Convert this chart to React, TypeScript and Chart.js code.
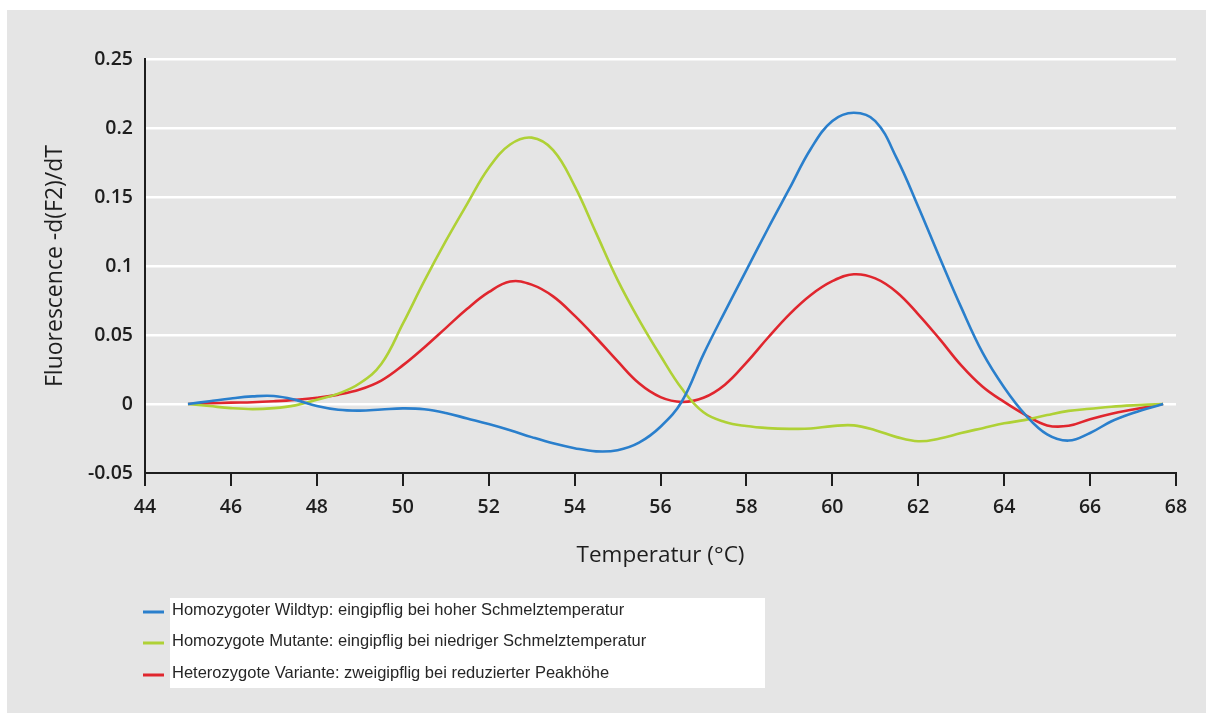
import React, { useEffect, useRef } from 'react';
import { Chart, registerables } from 'chart.js';

Chart.register(...registerables);

// ---- data ----
const seriesLabels = [
  'Homozygoter Wildtyp: eingipflig bei hoher Schmelztemperatur',
  'Homozygote Mutante: eingipflig bei niedriger Schmelztemperatur',
  'Heterozygote Variante: zweigipflig bei reduzierter Peakhöhe',
];
const seriesColors = ['#2a7fcc', '#afd136', '#e0262e'];

const temps = [
  45, 45.5, 46, 46.5, 47, 47.5, 48, 48.5, 49, 49.5, 50, 50.5, 51, 51.5, 52, 52.5,
  53, 53.5, 54, 54.5, 55, 55.5, 56, 56.5, 57, 57.5, 58, 58.5, 59, 59.5, 60, 60.5,
  61, 61.5, 62, 62.5, 63, 63.5, 64, 64.5, 65, 65.5, 66, 66.5, 67, 67.7,
];

const wildtyp = [
  0, 0.002, 0.004, 0.0055, 0.0058, 0.003, -0.0015, -0.0042, -0.0048, -0.004, -0.0032, -0.0038,
  -0.0065, -0.0105, -0.0145, -0.019, -0.024, -0.0285, -0.032, -0.0343, -0.0335, -0.028, -0.0165, 0.002,
  0.036, 0.067, 0.097, 0.127, 0.156, 0.185, 0.205, 0.211, 0.205, 0.178, 0.143, 0.106,
  0.07, 0.037, 0.012, -0.008, -0.022, -0.0265, -0.021, -0.0125, -0.0065, 0,
];

const mutante = [
  0, -0.0015, -0.003, -0.0037, -0.003, -0.001, 0.003, 0.0075, 0.015, 0.029, 0.058, 0.089,
  0.118, 0.145, 0.171, 0.188, 0.193, 0.184, 0.158, 0.124, 0.09, 0.061, 0.035, 0.011,
  -0.006, -0.013, -0.016, -0.0175, -0.018, -0.0178, -0.016, -0.0155, -0.019, -0.024, -0.027, -0.025,
  -0.021, -0.0175, -0.014, -0.0115, -0.008, -0.005, -0.0035, -0.002, -0.001, 0,
];

const variante = [
  0, 0.0005, 0.001, 0.0013, 0.002, 0.003, 0.0045, 0.0068, 0.0105, 0.017, 0.028, 0.041,
  0.055, 0.069, 0.081, 0.0888, 0.0865, 0.078, 0.064, 0.048, 0.031, 0.015, 0.005, 0.0015,
  0.0045, 0.014, 0.03, 0.048, 0.065, 0.079, 0.089, 0.094, 0.091, 0.081, 0.065, 0.047,
  0.028, 0.0125, 0.0015, -0.008, -0.0155, -0.0158, -0.011, -0.007, -0.004, 0,
];

const X_MIN = 44;
const X_MAX = 68;
const X_STEP = 2;
const Y_MIN = -0.05;
const Y_MAX = 0.25;
const Y_STEP = 0.05;
const yTickLabels = ['-0.05', '0', '0.05', '0.1', '0.15', '0.2', '0.25'];
const xTitle = 'Temperatur (°C)';
const yTitle = 'Fluorescence -d(F2)/dT';

const CANVAS_W = 1199;
const CANVAS_H = 703;
const AXIS_COLOR = '#1e1e1e';
const TEXT_COLOR = '#1e1e1e';
const FONT = '"Open Sans", "Noto Sans", sans-serif';

const legendPlugin = {
  id: 'boxLegend',
  afterDraw(chart: any) {
    const ctx = chart.ctx;
    ctx.save();
    ctx.fillStyle = '#ffffff';
    ctx.fillRect(163, 588, 595, 90);
    const rows = [602, 633, 665];
    chart.data.datasets.forEach((ds: any, i: number) => {
      const y = rows[i];
      ctx.strokeStyle = ds.borderColor;
      ctx.lineWidth = 3;
      ctx.beginPath();
      ctx.moveTo(136, y);
      ctx.lineTo(157, y);
      ctx.stroke();
      ctx.fillStyle = '#262626';
      ctx.font = '16.5px "Liberation Sans", Arial, sans-serif';
      ctx.textBaseline = 'middle';
      ctx.textAlign = 'left';
      ctx.fillText(ds.label, 165, y - 2);
    });
    ctx.restore();
  },
};

export default function App() {
  const ref = useRef<HTMLCanvasElement | null>(null);

  useEffect(() => {
    if (!ref.current) return;
    const toPts = (vals: number[]) => vals.map((y, i) => ({ x: temps[i], y }));
    const sets = [wildtyp, mutante, variante];
    const chart = new Chart(ref.current, {
      type: 'line',
      data: {
        datasets: sets.map((s, i) => ({
          label: seriesLabels[i],
          data: toPts(s),
          borderColor: seriesColors[i],
          backgroundColor: seriesColors[i],
          borderWidth: 2.6,
          pointRadius: 0,
          fill: false,
          tension: 0.4,
        })),
      },
      options: {
        animation: false,
        responsive: false,
        devicePixelRatio: 1,
        layout: { padding: { left: 0, right: 30, top: 49, bottom: 0 } },
        plugins: {
          legend: { display: false },
          tooltip: { enabled: false },
        },
        scales: {
          x: {
            type: 'linear',
            min: X_MIN,
            max: X_MAX,
            afterFit: (scale: any) => {
              scale.height = 240;
            },
            ticks: {
              stepSize: X_STEP,
              color: TEXT_COLOR,
              padding: 10,
              font: { family: FONT, size: 19.5, weight: '600' },
              maxRotation: 0,
            },
            grid: {
              drawOnChartArea: false,
              drawTicks: true,
              tickLength: 13,
              color: AXIS_COLOR,
              lineWidth: 2,
            },
            border: { display: true, color: AXIS_COLOR, width: 2 },
            title: {
              display: true,
              text: xTitle,
              color: TEXT_COLOR,
              font: { family: FONT, size: 22.5, weight: '500' },
              padding: { top: 0, bottom: 144 },
            },
          },
          y: {
            type: 'linear',
            min: Y_MIN,
            max: Y_MAX,
            afterFit: (scale: any) => {
              scale.width = 138;
            },
            ticks: {
              stepSize: Y_STEP,
              color: TEXT_COLOR,
              padding: 12,
              font: { family: FONT, size: 19.5, weight: '600' },
              callback: (_v: any, index: number) => yTickLabels[index],
            },
            grid: {
              drawTicks: false,
              color: (c: any) => (c.tick && Math.abs(c.tick.value - Y_MIN) < 1e-9 ? 'rgba(0,0,0,0)' : '#ffffff'),
              lineWidth: 2.5,
            },
            border: { display: true, color: AXIS_COLOR, width: 2 },
            title: {
              display: true,
              text: yTitle,
              color: TEXT_COLOR,
              font: { family: FONT, size: 23, weight: '500' },
              padding: { top: 35, bottom: 0 },
            },
          },
        },
      },
      plugins: [legendPlugin],
    });
    return () => chart.destroy();
  }, []);

  return (
    <div style={{ position: 'absolute', left: 0, top: 0, width: 1206, height: 713, background: '#ffffff', overflow: 'hidden' }}>
      <canvas
        ref={ref}
        width={CANVAS_W}
        height={CANVAS_H}
        style={{ position: 'absolute', left: 7, top: 10, width: CANVAS_W, height: CANVAS_H, background: '#e5e5e5' }}
      />
    </div>
  );
}
